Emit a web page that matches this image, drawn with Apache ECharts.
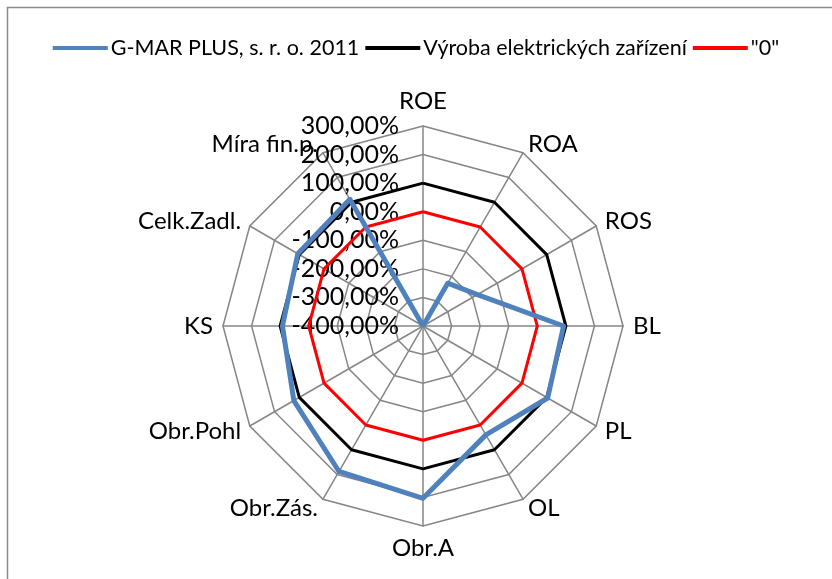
<!doctype html>
<html>
<head>
<meta charset="utf-8"/>
<title>Radar</title>
<script src="https://cdn.jsdelivr.net/npm/echarts@6/dist/echarts.min.js"></script>
<style>
body { margin: 0; background: #fff; }
#chart { width: 832px; height: 579px; }
</style>
</head>
<body>
<div id="chart"></div>
<script>
// ukazatele ve smeru hodinovych rucicek, od vrcholu
const categories = ['ROE', 'ROA', 'ROS', 'BL', 'PL', 'OL', 'Obr.A', 'Obr.Zás.', 'Obr.Pohl', 'KS', 'Celk.Zadl.', 'Míra fin.p.'];
const gmar = [-400, -227, -180, 92, 104, 40, 203, 188, 122, 92, 106, 112];
const vyroba = [100, 100, 100, 100, 100, 100, 100, 100, 100, 100, 100, 100];
const nula = [0, 0, 0, 0, 0, 0, 0, 0, 0, 0, 0, 0];
const seriesNames = ['G-MAR PLUS, s. r. o. 2011', 'Výroba elektrických zařízení', '"0"'];
const colors = ['#4F81BD', '#000000', '#FF0000'];
const lineWidths = [5, 3, 3];

// echarts kresli radar proti smeru hodin -> preskladat
const order = [0];
for (let i = categories.length - 1; i > 0; i--) order.push(i);
const pick = arr => order.map(i => arr[i]);

const font = 'Lato, "Liberation Sans", sans-serif';

const indicator = pick(categories).map((name, k) => ({
    name: name,
    min: -400,
    max: 300,
    axisLabel: k === 0 ? { show: true } : undefined
}));

const chart = echarts.init(document.getElementById('chart'));
chart.setOption({
    animation: false,
    textStyle: { fontFamily: font },
    graphic: [{
        type: 'rect',
        shape: { x: 7.5, y: 7.5, width: 900, height: 700 },
        style: { fill: 'none', stroke: '#8c8c8c', lineWidth: 1.5 },
        silent: true
    }],
    legend: {
        top: 32,
        left: 'center',
        itemWidth: 55,
        itemHeight: 4,
        itemGap: 6,
        icon: 'rect',
        textStyle: { fontFamily: font, fontSize: 21.5, color: '#000', padding: [0, 0, 0, -2] },
        data: seriesNames
    },
    radar: {
        center: [423, 326],
        radius: 200,
        shape: 'polygon',
        splitNumber: 7,
        startAngle: 90,
        nameGap: 10,
        axisName: { color: '#000', fontSize: 24, fontFamily: font },
        axisLine: { show: true, lineStyle: { color: '#868686', width: 1.5 } },
        splitLine: { lineStyle: { color: '#868686', width: 1.5 } },
        splitArea: { show: false },
        axisTick: { show: false },
        axisLabel: {
            show: false,
            margin: 24,
            color: '#000',
            fontSize: 25,
            fontFamily: font,
            formatter: v => v.toFixed(2).replace('.', ',') + '%'
        },
        indicator: indicator
    },
    series: [gmar, vyroba, nula].map((vals, i) => ({
        type: 'radar',
        name: seriesNames[i],
        symbol: 'none',
        color: colors[i],
        lineStyle: { color: colors[i], width: lineWidths[i] },
        z: 3 - i,
        data: [{ name: seriesNames[i], value: pick(vals) }]
    }))
});
</script>
</body>
</html>
